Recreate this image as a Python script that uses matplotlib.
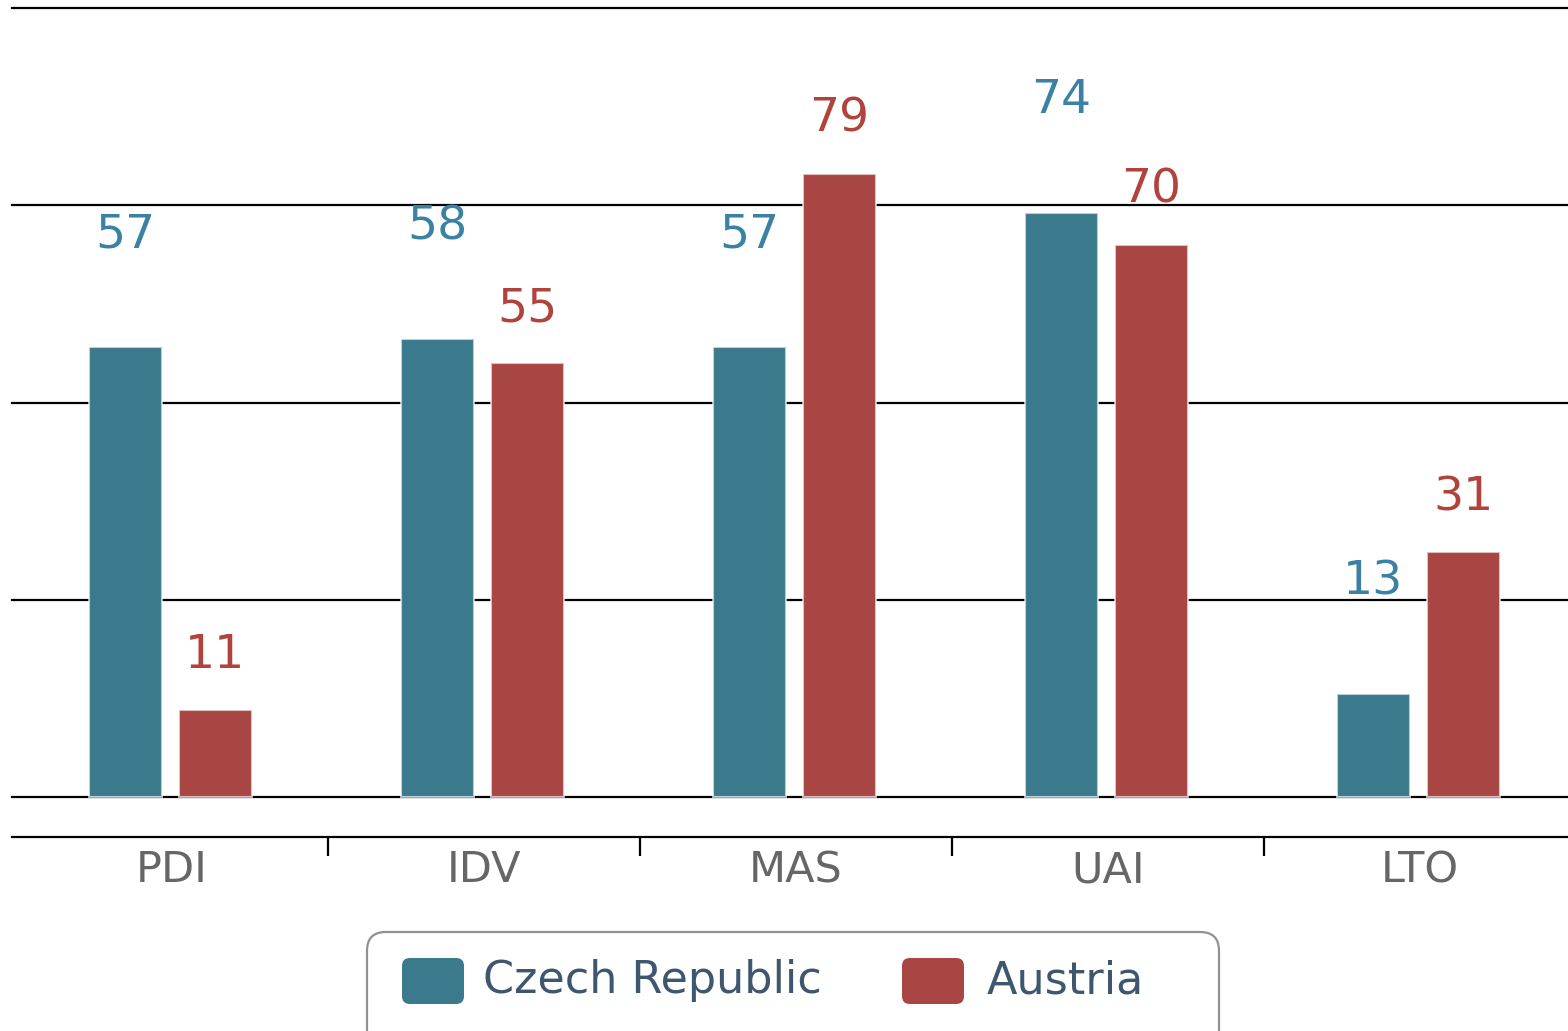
import matplotlib
matplotlib.use("Agg")
import matplotlib.pyplot as plt
from matplotlib.patches import FancyBboxPatch
import numpy as np

categories = ["PDI", "IDV", "MAS", "UAI", "LTO"]
series_names = ["Czech Republic", "Austria"]
czech_values = [57, 58, 57, 74, 13]
austria_values = [11, 55, 79, 70, 31]
grid_values = [0, 25, 50, 75, 100]

bar_colors = ["#3b7a8d", "#a84644"]
label_colors = ["#3a81a3", "#b0433c"]
label_offsets_px = [90, 32]

W, H = 1568, 1031
plt.rcParams["font.family"] = ["DejaVu Sans"]
fig = plt.figure(figsize=(W / 100, H / 100), dpi=100)

# plot area in pixel terms
left_px, right_px = 12, 1568
top_px, bottom_px = 8, 837
ax = fig.add_axes([left_px / W, 1 - bottom_px / H,
                   (right_px - left_px) / W, (bottom_px - top_px) / H])

unit_px = 312.0
x0 = -0.5 - 4 / unit_px
ax.set_xlim(x0, x0 + (right_px - left_px) / unit_px)
y_per_unit = (797 - 8) / 100.0
ax.set_ylim(-(bottom_px - 797) / y_per_unit, 100)

for g in grid_values:
    ax.axhline(g, color="black", lw=1.6, zorder=1, clip_on=False)

x = np.arange(len(categories))
width = 0.234
offsets = [-0.150, 0.138]
for vals, off, col, lcol, lo in zip([czech_values, austria_values], offsets,
                                     bar_colors, label_colors, label_offsets_px):
    bars = ax.bar(x + off, vals, width=width, color=col,
                  edgecolor=(1, 1, 1, 0.65), linewidth=1.5, zorder=2)
    for b, v in zip(bars, vals):
        ax.annotate(str(v), (b.get_x() + b.get_width() / 2, v),
                    xytext=(0, lo), textcoords="offset pixels",
                    ha="center", va="bottom", fontsize=34, color=lcol)

for s in ["top", "left", "right"]:
    ax.spines[s].set_visible(False)
ax.spines["bottom"].set_linewidth(1.6)
ax.spines["bottom"].set_color("black")
ax.set_yticks([])
ax.set_xticks(x)
ax.set_xticklabels(categories, fontsize=31, color="#666666")
ax.tick_params(axis="x", which="major", length=0, pad=9)
ax.set_xticks(x[:-1] + 0.5, minor=True)
ax.tick_params(axis="x", which="minor", length=14, width=1.6, color="black")

# legend box
def fx(px):
    return px / W

def fy(py):
    return 1 - py / H

frame = FancyBboxPatch((fx(367), fy(1060)), fx(1219) - fx(367), fy(932) - fy(1060),
                       boxstyle="round,pad=0,rounding_size=0.012",
                       transform=fig.transFigure, facecolor="white",
                       edgecolor="#919191", linewidth=1.6, mutation_aspect=W / H)
fig.patches.append(frame)

marker_x = [402, 902]
text_x = [483, 987]
for name, col, mx, tx in zip(series_names, bar_colors, marker_x, text_x):
    m = FancyBboxPatch((fx(mx), fy(1004)), fx(62), (46) / H,
                       boxstyle="round,pad=0,rounding_size=0.005",
                       transform=fig.transFigure, facecolor=col,
                       edgecolor="none", mutation_aspect=W / H)
    fig.patches.append(m)
    fig.text(fx(tx), fy(981), name, fontsize=32, color="#3e576f",
             ha="left", va="center")

fig.savefig("out.png", dpi=100)
